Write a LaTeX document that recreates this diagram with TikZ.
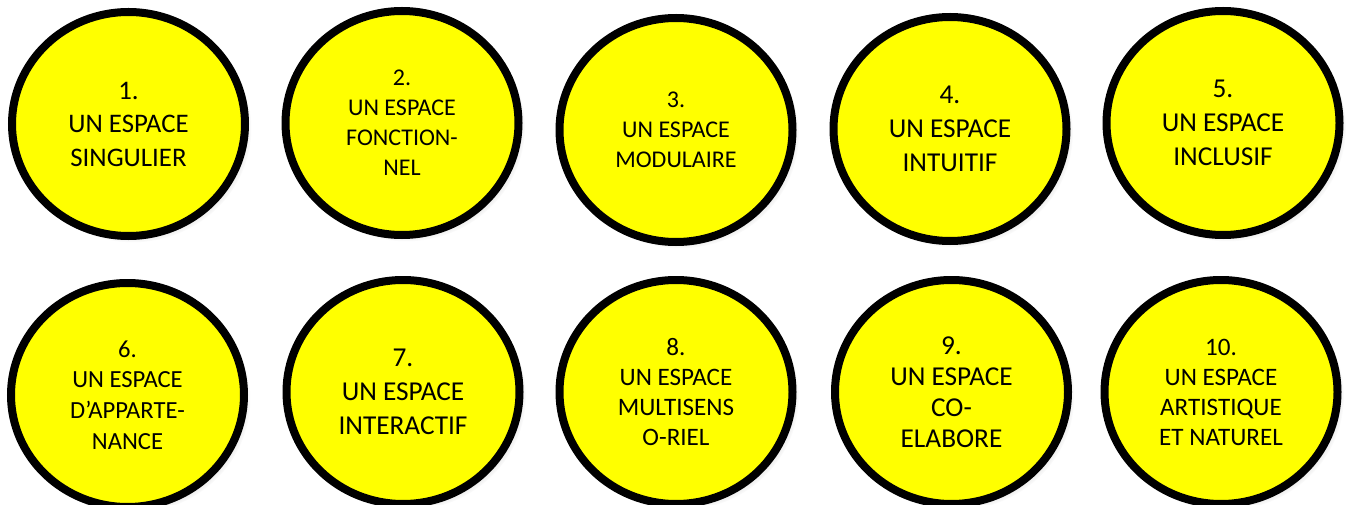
\documentclass[tikz,border=0pt]{standalone}
\usepackage{fontspec}
\setmainfont{Carlito}
\usetikzlibrary{shapes.geometric,shadows}
\definecolor{ylw}{RGB}{255,255,0}
\tikzset{
  bubble/.style={ellipse, draw=black, line width=8pt, fill=ylw,
    minimum width=233pt, minimum height=224pt, inner sep=0pt, align=center,
    text=black,
    circular drop shadow={shadow xshift=4pt, shadow yshift=-4pt, opacity=0.45, shadow scale=1.02}},
  fs/.style={font=\fontsize{#1pt}{\dimexpr #1pt*5/4\relax}\selectfont},
  fsl/.style 2 args={font=\fontsize{#1pt}{#2pt}\selectfont}
}
\begin{document}
\begin{tikzpicture}[x=1pt,y=-1pt]
\useasboundingbox (0,0) rectangle (1352,505);
\clip (0,0) rectangle (1352,505);
\fill[white] (0,0) rectangle (1352,505);
\node[bubble, fs=26.8] (c1) at (128.5,124) {1.\\UN ESPACE\\SINGULIER};
\node[bubble, fs=24] (c2) at (402,123) {2.\\UN ESPACE\\FONCTION-\\NEL};
\node[bubble, fs=24] (c3) at (676,130) {3.\\UN ESPACE\\MODULAIRE};
\node[bubble, fs=27.3] (c4) at (950,129) {4.\\UN ESPACE\\INTUITIF};
\node[bubble, fs=27.3] (c5) at (1223,123) {5.\\UN ESPACE\\INCLUSIF};
\node[bubble, fs=24.6] (c6) at (127.5,395) {6.\\UN ESPACE\\D’APPARTE-\\NANCE};
\node[bubble, fs=27.3] (c7) at (403,392) {7.\\UN ESPACE\\INTERACTIF};
\node[bubble, fsl={25.1}{30}] (c8) at (676,392) {8.\\UN ESPACE\\MULTISENS\\O-RIEL};
\node[bubble, fsl={27.3}{31}] (c9) at (951.5,392) {9.\\UN ESPACE\\CO-\\ELABORE};
\node[bubble, fsl={25.1}{30}] (c10) at (1221,392) {10.\\UN ESPACE\\ARTISTIQUE\\ET NATUREL};
\end{tikzpicture}
\end{document}
